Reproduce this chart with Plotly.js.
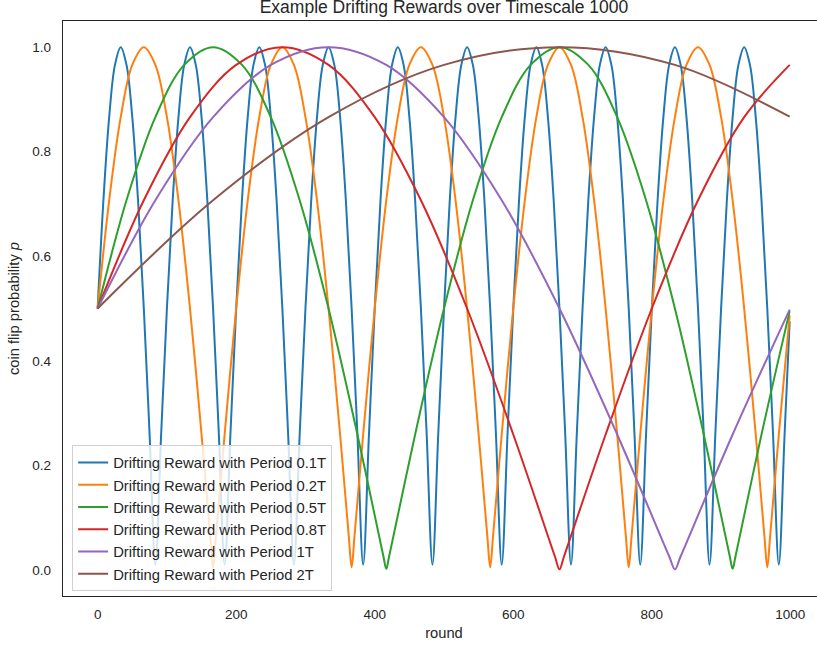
<!DOCTYPE html>
<html>
<head>
<meta charset="utf-8">
<script src="https://cdn.plot.ly/plotly-3.0.1.min.js"></script>
<style>
html,body{margin:0;padding:0;background:#fff;overflow:hidden;width:817px;height:648px;}
#chart{width:826px;height:648px;}
</style>
</head>
<body>
<div id="chart"></div>
<script>
// ---- data ----
const seriesNames = [
  "Drifting Reward with Period 0.1T",
  "Drifting Reward with Period 0.2T",
  "Drifting Reward with Period 0.5T",
  "Drifting Reward with Period 0.8T",
  "Drifting Reward with Period 1T",
  "Drifting Reward with Period 2T"
];

const xBlue = [
  0,8.33,16.67,25,33.33,41.67,50,58.33,66.67,75,83.33,91.67,
  100,108.33,116.67,125,133.33,141.67,150,158.33,166.67,175,183.33,191.67,
  200,208.33,216.67,225,233.33,241.67,250,258.33,266.67,275,283.33,291.67,
  300,308.33,316.67,325,333.33,341.67,350,358.33,366.67,375,383.33,391.67,
  400,408.33,416.67,425,433.33,441.67,450,458.33,466.67,475,483.33,491.67,
  500,508.33,516.67,525,533.33,541.67,550,558.33,566.67,575,583.33,591.67,
  600,608.33,616.67,625,633.33,641.67,650,658.33,666.67,675,683.33,691.67,
  700,708.33,716.67,725,733.33,741.67,750,758.33,766.67,775,783.33,791.67,
  800,808.33,816.67,825,833.33,841.67,850,858.33,866.67,875,883.33,891.67,
  900,908.33,916.67,925,933.33,941.67,950,958.33,966.67,975,983.33,991.67,
  999
];
const yBlue = [
  0.5,0.707,0.866,0.966,1,0.966,0.866,0.707,0.5,0.259,0.01,0.259,
  0.5,0.707,0.866,0.966,1,0.966,0.866,0.707,0.5,0.259,0.01,0.259,
  0.5,0.707,0.866,0.966,1,0.966,0.866,0.707,0.5,0.259,0.01,0.259,
  0.5,0.707,0.866,0.966,1,0.966,0.866,0.707,0.5,0.259,0.01,0.259,
  0.5,0.707,0.866,0.966,1,0.966,0.866,0.707,0.5,0.259,0.01,0.259,
  0.5,0.707,0.866,0.966,1,0.966,0.866,0.707,0.5,0.259,0.01,0.259,
  0.5,0.707,0.866,0.966,1,0.966,0.866,0.707,0.5,0.259,0.01,0.259,
  0.5,0.707,0.866,0.966,1,0.966,0.866,0.707,0.5,0.259,0.01,0.259,
  0.5,0.707,0.866,0.966,1,0.966,0.866,0.707,0.5,0.259,0.01,0.259,
  0.5,0.707,0.866,0.966,1,0.966,0.866,0.707,0.5,0.259,0.01,0.259,
  0.475
];

const xOrange = [
  0,16.67,33.33,50,66.67,83.33,100,116.67,133.33,150,162.5,166.67,170.83,183.33,
  200,216.67,233.33,250,266.67,283.33,300,316.67,333.33,350,362.5,366.67,370.83,383.33,
  400,416.67,433.33,450,466.67,483.33,500,516.67,533.33,550,562.5,566.67,570.83,583.33,
  600,616.67,633.33,650,666.67,683.33,700,716.67,733.33,750,762.5,766.67,770.83,783.33,
  800,816.67,833.33,850,866.67,883.33,900,916.67,933.33,950,962.5,966.67,970.83,983.33,
  999
];
const yOrange = [
  0.5,0.707,0.866,0.966,1,0.966,0.866,0.707,0.5,0.259,0.065,0.005,0.065,0.259,
  0.5,0.707,0.866,0.966,1,0.966,0.866,0.707,0.5,0.259,0.065,0.005,0.065,0.259,
  0.5,0.707,0.866,0.966,1,0.966,0.866,0.707,0.5,0.259,0.065,0.005,0.065,0.259,
  0.5,0.707,0.866,0.966,1,0.966,0.866,0.707,0.5,0.259,0.065,0.005,0.065,0.259,
  0.5,0.707,0.866,0.966,1,0.966,0.866,0.707,0.5,0.259,0.065,0.005,0.065,0.259,
  0.487
];

const xGreen = [
  0,41.67,83.33,125,166.67,208.33,250,291.67,333.33,375,412.5,416.67,420.83,458.33,
  500,541.67,583.33,625,666.67,708.33,750,791.67,833.33,875,912.5,916.67,920.83,958.33,
  999
];
const yGreen = [
  0.5,0.707,0.866,0.966,1,0.966,0.866,0.707,0.5,0.259,0.026,0.002,0.026,0.259,
  0.5,0.707,0.866,0.966,1,0.966,0.866,0.707,0.5,0.259,0.026,0.002,0.026,0.259,
  0.495
];

const xRed = [0,66.67,133.33,200,266.67,333.33,400,466.67,533.33,600,660,666.67,673.33,733.33,800,866.67,933.33,999];
const yRed = [0.5,0.707,0.866,0.966,1,0.966,0.866,0.707,0.5,0.259,0.026,0.001,0.026,0.259,0.5,0.707,0.866,0.966];

const xPurple = [0,83.33,166.67,250,333.33,416.67,500,583.33,666.67,750,825,833.33,841.67,916.67,999];
const yPurple = [0.5,0.707,0.866,0.966,1,0.966,0.866,0.707,0.5,0.259,0.026,0.001,0.026,0.259,0.498];

const xBrown = [0,166.67,333.33,500,666.67,833.33,999];
const yBrown = [0.5,0.707,0.866,0.966,1,0.966,0.867];

const xTickVals = [0,200,400,600,800,1000];
const xTickText = ["0","200","400","600","800","1000"];
const yTickVals = [0,0.2,0.4,0.6,0.8,1.0];
const yTickText = ["0.0","0.2","0.4","0.6","0.8","1.0"];

// ---- styling ----
const colors = ["#1f77b4","#ff7f0e","#2ca02c","#d62728","#9467bd","#8c564b"];
const xs = [xBlue,xOrange,xGreen,xRed,xPurple,xBrown];
const ys = [yBlue,yOrange,yGreen,yRed,yPurple,yBrown];
const FONT = "Liberation Sans, Arial, Helvetica, sans-serif";
const TXT = "#262626";

const traces = xs.map((x,i)=>({
  type:"scatter", mode:"lines", x:x, y:ys[i], name:seriesNames[i],
  line:{color:colors[i], width:2, shape:"spline", smoothing:1}
}));

const layout = {
  width:826, height:648,
  margin:{l:63, r:1, t:21, b:52},
  paper_bgcolor:"#fff", plot_bgcolor:"#fff",
  font:{family:FONT, color:TXT, size:13.5},
  title:{text:"Example Drifting Rewards over Timescale 1000",
         font:{family:FONT, size:17.5, color:TXT},
         x:0.5, xref:"paper", xanchor:"center",
         y:1-7/648, yref:"container", yanchor:"middle"},
  showlegend:true,
  legend:{x:0.012, y:0.008, xanchor:"left", yanchor:"bottom",
          bgcolor:"rgba(255,255,255,0.8)", bordercolor:"#d0d0d0", borderwidth:1,
          font:{family:FONT, size:14.8, color:TXT},
          traceorder:"normal"},
  xaxis:{range:[-50,1050], tickvals:xTickVals, ticktext:xTickText,
         showgrid:false, zeroline:false, showline:true, mirror:true,
         linecolor:TXT, linewidth:1.25, ticks:"", ticklabelstandoff:6,
         tickfont:{size:13.5, color:TXT},
         title:{text:"round", font:{size:14.7, color:TXT}, standoff:6}},
  yaxis:{range:[-0.05,1.05], tickvals:yTickVals, ticktext:yTickText,
         showgrid:false, zeroline:false, showline:true, mirror:true,
         linecolor:TXT, linewidth:1.25, ticks:"", ticklabelstandoff:8,
         tickfont:{size:13.5, color:TXT},
         title:{text:"coin flip probability <i>p</i>", font:{size:14.7, color:TXT}, standoff:9}}
};

Plotly.newPlot("chart", traces, layout, {displayModeBar:false, staticPlot:true});
</script>
</body>
</html>
